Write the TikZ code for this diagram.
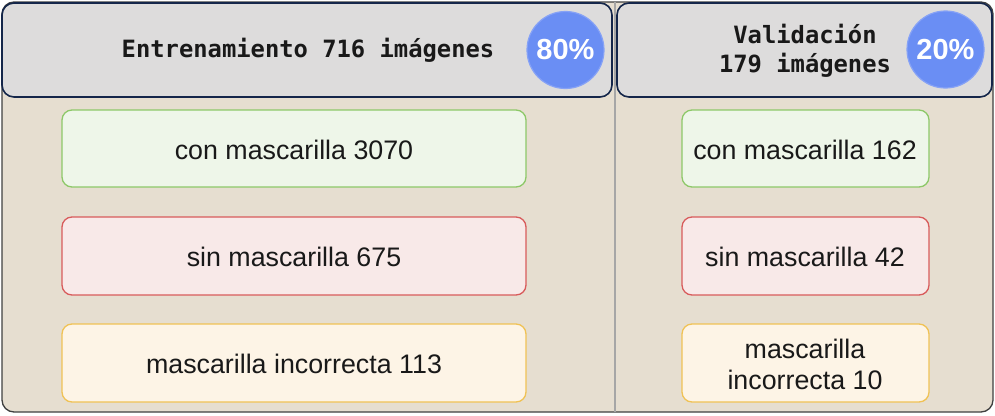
\documentclass[tikz,border=0pt]{standalone}
\usepackage{fontspec}
\setmainfont{Liberation Sans}
\newfontfamily\monob{DejaVu Sans Mono}
\definecolor{bgc}{HTML}{E6DED0}
\definecolor{hdrfill}{HTML}{DDDCDC}
\definecolor{hdrline}{HTML}{14264A}
\definecolor{circfill}{HTML}{6A8EF4}
\definecolor{circline}{HTML}{86A2F6}
\definecolor{gfill}{HTML}{EEF6E9}
\definecolor{gline}{HTML}{8DC868}
\definecolor{rfill}{HTML}{F8E9E8}
\definecolor{rline}{HTML}{D85B5B}
\definecolor{yfill}{HTML}{FDF4E6}
\definecolor{yline}{HTML}{F0C255}
\begin{document}
\begin{tikzpicture}[x=1pt,y=-1pt,
  hdr/.style={draw=hdrline,line width=1.6pt,fill=hdrfill,rounded corners=12pt},
  pct/.style={circle,fill=circfill,draw=circline,line width=1.2pt,minimum size=77pt,inner sep=0pt,text=white,font=\bfseries\fontsize{29}{32}\selectfont},
  htext/.style={font=\monob\bfseries\fontsize{23.8}{29.5}\selectfont,align=center,text=black!90},
  cls/.style={rounded corners=10pt,line width=1.3pt,align=center,font=\fontsize{26.8}{31}\selectfont,text=black!90}
]
\useasboundingbox (0,0) rectangle (995,415);
\draw[fill=bgc,draw=black!75,line width=1.3pt,rounded corners=12pt] (2,2) rectangle (993,412);
\draw[draw=black!35,line width=1.2pt] (615,2) -- (615,412);
\draw[hdr] (2,3) rectangle (612,97);
\draw[hdr] (617,3) rectangle (992,97);
\node[htext] (ht) at (308,50) {Entrenamiento 716 imágenes};
\node[htext] (vt) at (805,51) {Validación\\179 imágenes};
\node[pct] (p80) at (565.5,50) {80\%};
\node[pct] (p20) at (945.5,49.5) {20\%};
% left
\draw[cls,draw=gline,fill=gfill] (62,110) rectangle (526,187);
\node[cls] (lg) at (294,150) {con mascarilla 3070};
\draw[cls,draw=rline,fill=rfill] (62,217) rectangle (526,295);
\node[cls] (lr) at (294,257) {sin mascarilla 675};
\draw[cls,draw=yline,fill=yfill] (62,324) rectangle (526,402);
\node[cls] (ly) at (294,364) {mascarilla incorrecta 113};
% right
\draw[cls,draw=gline,fill=gfill] (682,110) rectangle (929,187);
\node[cls] (rg) at (805,150) {con mascarilla 162};
\draw[cls,draw=rline,fill=rfill] (682,217) rectangle (929,295);
\node[cls] (rr) at (805,257) {sin mascarilla 42};
\draw[cls,draw=yline,fill=yfill] (682,324) rectangle (929,402);
\node[cls] (ry) at (805,364) {mascarilla\\incorrecta 10};
\end{tikzpicture}
\end{document}
